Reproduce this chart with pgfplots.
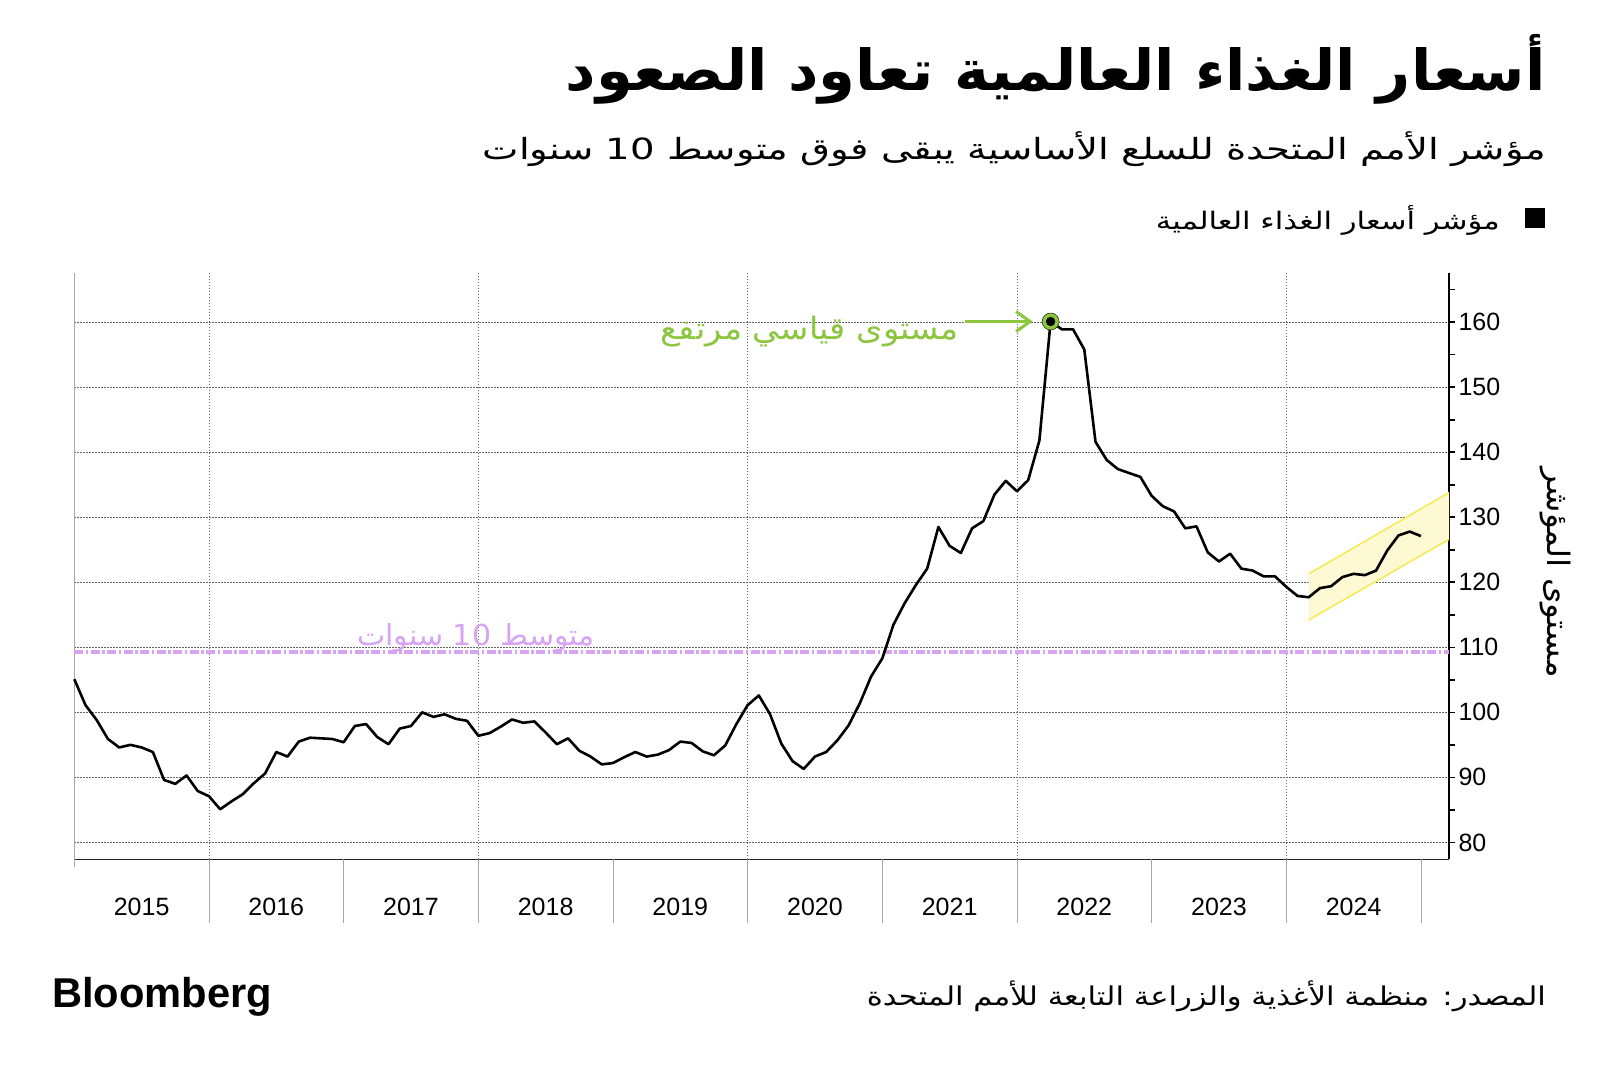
\documentclass[border=0pt]{standalone}
\usepackage{graphicx}
\usepackage{pgfplots}
\usepackage{pgfplotstable}
\pgfplotsset{compat=1.18}
\usepackage{fontspec}
\setmainfont{Liberation Sans}
\newfontfamily\arabicfont[Script=Arabic]{DejaVu Sans}
\TeXXeTstate=1
\usetikzlibrary{arrows.meta}

\definecolor{grn}{HTML}{8CC63F}
\definecolor{lil}{HTML}{D7A4F2}
\definecolor{ylw}{HTML}{F5EA4A}
\definecolor{ylwfill}{HTML}{FDF9D2}
\definecolor{gridc}{HTML}{666666}

\newcommand\ar[1]{{\arabicfont\fontsize{40}{48}\selectfont\beginR #1\endR}}
\newcommand\arb[1]{{\arabicfont\bfseries\fontsize{40}{48}\selectfont\beginR #1\endR}}
\newcommand\fit[3]{\resizebox*{#1}{#2}{#3}}

\pgfplotstableread{
i v
0 105.1
1 101.1
2 98.8
3 95.9
4 94.6
5 95.0
6 94.6
7 93.9
8 89.6
9 89.0
10 90.3
11 87.9
12 87.1
13 85.1
14 86.3
15 87.4
16 89.1
17 90.6
18 93.9
19 93.2
20 95.5
21 96.1
22 96.0
23 95.9
24 95.4
25 97.9
26 98.2
27 96.2
28 95.1
29 97.5
30 97.9
31 100.0
32 99.3
33 99.7
34 99.0
35 98.7
36 96.4
37 96.8
38 97.8
39 98.9
40 98.4
41 98.6
42 96.9
43 95.1
44 96.0
45 94.1
46 93.2
47 92.0
48 92.2
49 93.1
50 93.9
51 93.2
52 93.5
53 94.2
54 95.5
55 95.3
56 94.0
57 93.4
58 94.9
59 98.2
60 101.1
61 102.6
62 99.7
63 95.2
64 92.5
65 91.3
66 93.2
67 93.9
68 95.7
69 98.0
70 101.4
71 105.5
72 108.3
73 113.5
74 116.8
75 119.6
76 122.1
77 128.5
78 125.6
79 124.5
80 128.3
81 129.4
82 133.5
83 135.6
84 134.0
85 135.7
86 141.8
87 160.1
88 158.9
89 158.9
90 155.8
91 141.6
92 138.8
93 137.4
94 136.8
95 136.2
96 133.3
97 131.7
98 130.9
99 128.3
100 128.6
101 124.6
102 123.2
103 124.4
104 122.1
105 121.8
106 120.9
107 120.9
108 119.3
109 117.9
110 117.7
111 119.1
112 119.4
113 120.8
114 121.3
115 121.1
116 121.8
117 124.9
118 127.2
119 127.8
120 127.1
}\fpi

\begin{document}
\begin{tikzpicture}
\fill[white] (0pt,0pt) rectangle (1600pt,-1070pt);
\path[use as bounding box] (0pt,0pt) rectangle (1600pt,-1070pt);

% titles
\node[anchor=east, inner sep=0pt] at (1546pt,-69pt) {\fit{980pt}{70pt}{\arb{أسعار الغذاء العالمية تعاود الصعود}}};
\node[anchor=east, inner sep=0pt] at (1546pt,-149.5pt) {\fit{1063pt}{35pt}{\ar{مؤشر الأمم المتحدة للسلع الأساسية يبقى فوق متوسط \beginL 10\endL{} سنوات}}};
% legend
\fill[black] (1525pt,-208pt) rectangle (1545pt,-228pt);
\node[anchor=east, inner sep=0pt] at (1500pt,-220pt) {\fit{344pt}{30pt}{\ar{مؤشر أسعار الغذاء العالمية}}};
% y label
\node[rotate=-90, inner sep=0pt] at (1555pt,-572.5pt) {\fit{210pt}{31pt}{\ar{مستوى المؤشر}}};
% source
\node[anchor=east, inner sep=0pt] at (1546pt,-996pt) {\fit{679pt}{31pt}{\ar{المصدر: منظمة الأغذية والزراعة التابعة للأمم المتحدة}}};
\node[anchor=base west, inner sep=0pt] at (52pt,-1007pt) {\resizebox{220pt}{!}{\fontsize{42}{48}\selectfont\bfseries Bloomberg}};

\begin{axis}[
  at={(74.3pt,-859.3pt)}, anchor=south west,
  scale only axis, width=1374.7pt, height=585.9pt,
  xmin=0, xmax=122.5, ymin=77.4, ymax=167.5,
  axis x line*=bottom, axis y line*=right,
  x axis line style={draw=black!85, line width=1.6pt, -},
  y axis line style={draw=black, line width=2pt, -},
  xtick={6,18,30,42,54,66,78,90,102,114},
  xticklabels={2015,2016,2017,2018,2019,2020,2021,2022,2023,2024},
  major x tick style={draw=none},
  xticklabel style={font=\fontsize{25}{30}\selectfont, anchor=center, yshift=-42pt},
  extra x ticks={12,36,60,84,108}, extra x tick labels={},
  extra x tick style={grid=major, major tick length=0pt, tick style={draw=none}},
  ytick={80,90,...,160}, minor ytick={85,95,...,165},
  ymajorgrids,
  grid style={gridc, line width=0.9pt, dash pattern=on 1.5pt off 1.5pt},
  yticklabel style={font=\fontsize{25}{30}\selectfont, anchor=west},
  tick align=outside, major tick length=6pt, minor tick length=6pt,
  every tick/.style={black, line width=1.6pt},
  /pgf/number format/assume math mode=true,
  clip=false,
]
\draw[gray!70, line width=1pt] (rel axis cs:0,0) -- (rel axis cs:0,1);
\pgfplotsinvokeforeach{12,24,36,48,60,72,84,96,108,120}{
  \draw[gray!70, line width=0.9pt] (axis cs:#1,77.4) -- ++(0pt,-63.4pt);
}
\draw[gray!70, line width=0.9pt] (axis cs:0,77.4) -- ++(0pt,-8pt);

% band
\addplot[fill=ylwfill, draw=none] coordinates {(110,114.2) (122.5,126.6) (122.5,133.8) (110,121.3)} -- cycle;
\addplot[ylw, line width=1.4pt] coordinates {(110,121.3) (122.5,133.8)};
\addplot[ylw, line width=1.4pt] coordinates {(110,114.2) (122.5,126.6)};

% 10-year average
\addplot[lil, line width=3.6pt, dash pattern=on 9pt off 2.5pt on 2.5pt off 2.5pt] coordinates {(0,109.3) (122.5,109.3)};
\node[lil, inner sep=0pt] at (axis cs:35.8,111.45) {\fit{238pt}{29pt}{\ar{متوسط \beginL 10\endL{} سنوات}}};

% main series
\addplot[black, line width=2.6pt, line join=round] table[x=i, y=v] {\fpi};

% peak
\addplot[only marks, mark=*, mark size=8.5pt, mark options={fill=grn, draw=none}] coordinates {(87,160.1)};
\addplot[only marks, mark=*, mark size=4.4pt, mark options={fill=black, draw=none}] coordinates {(87,160.1)};
\draw[grn, line width=3pt, -{Straight Barb[length=14pt, width=20pt, line width=3pt]}] (axis cs:79.4,160.1) -- (axis cs:85.4,160.1);
\node[anchor=east, inner sep=0pt] at (axis cs:78.85,158.6) {\color{grn}\fit{298pt}{31pt}{\ar{مستوى قياسي مرتفع}}};
\end{axis}
\end{tikzpicture}
\end{document}
